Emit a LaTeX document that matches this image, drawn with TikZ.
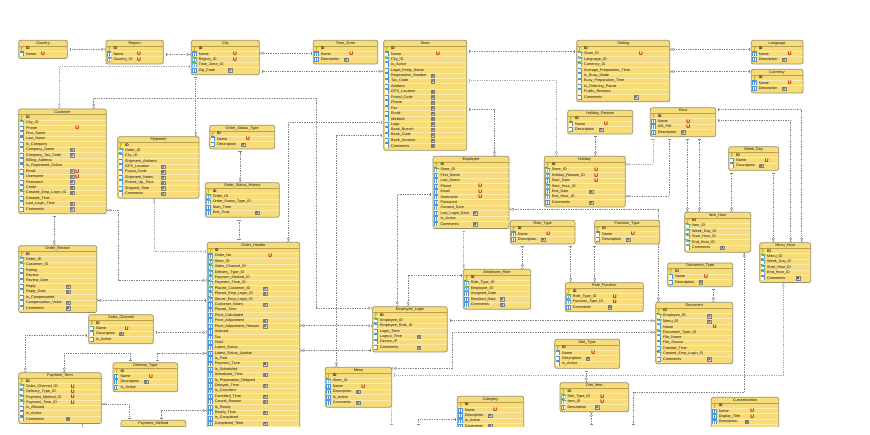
\documentclass[tikz,border=0pt]{standalone}
\usepackage{fontspec}
\setmainfont{Liberation Sans}
\usetikzlibrary{arrows.meta}
\catcode`\_=12
\pgfdeclarelayer{bg}
\pgfsetlayers{bg,main}
\definecolor{tfill}{HTML}{F8DC7A}
\definecolor{tedge}{HTML}{978F66}
\definecolor{tline}{HTML}{FBEBB0}
\definecolor{thead}{HTML}{B5A050}
\definecolor{icob}{HTML}{4F94D4}
\definecolor{icog}{HTML}{2E9E3E}
\definecolor{keyc}{HTML}{E0AE18}
\definecolor{uc}{HTML}{C00000}
\definecolor{cng}{HTML}{868686}
\definecolor{cnl}{HTML}{ABABAB}
\tikzset{
  x=1pt,y=-1pt,
  tblbox/.style={draw=tedge,fill=tfill,line width=.7pt,rounded corners=2pt,inner sep=0pt,outer sep=0pt,anchor=north west},
  ttl/.style={font=\fontsize{3.8}{4}\selectfont,inner sep=0pt,text=black!90},
  rowt/.style={font=\fontsize{3.75}{4}\selectfont,inner sep=0pt,anchor=west,text=black!90},
  ut/.style={font=\fontsize{5.2}{5}\selectfont\bfseries,inner sep=0pt,text=uc},
  mtip/.tip={Circle[open,length=2.8pt,width=2.8pt,fill=white,line width=.4pt,sep=.6pt] Straight Barb[reversed,length=1.4pt,width=3pt,line width=.35pt]},
  otip/.tip={Bar[width=3.2pt,line width=.4pt,sep=2.4pt]},
  cn/.style={draw=cng,line width=.5pt,dash pattern=on 1.4pt off 1pt},
  cl/.style={draw=cnl,line width=.8pt,dash pattern=on .9pt off .9pt},
}
\newcommand{\iconk}{%
  \fill[keyc] (\rx+3.2,\ry-1.1) circle (1.25);
  \fill[keyc] (\rx+2.7,\ry-1) rectangle (\rx+3.7,\ry+2.5);}
\newcommand{\iconc}{%
  \fill[icob] (\rx+1.1,\ry-2.5) rectangle (\rx+5.3,\ry+2.5);
  \fill[white] (\rx+1.7,\ry-1.3) rectangle (\rx+2.9,\ry+2);
  \fill[white] (\rx+3.5,\ry-1.3) rectangle (\rx+4.7,\ry+2);}
\newcommand{\iconf}{%
  \fill[icob!75!white] (\rx+1.1,\ry-1.7) rectangle (\rx+5.3,\ry+2.5);
  \fill[white] (\rx+1.7,\ry-.6) rectangle (\rx+2.9,\ry+2);
  \fill[white] (\rx+3.5,\ry-.6) rectangle (\rx+4.7,\ry+2);
  \draw[icog,line width=.8pt] (\rx+.8,\ry-2.7) -- (\rx+5.8,\ry-1.4);}
\newcommand{\iconz}{}
\newcommand{\nbox}{%
  \draw[black!50,fill=black!14,line width=.35pt] (\nx-1.7,\ry-1.7) rectangle (\nx+1.7,\ry+1.7);
  \draw[black!70,line width=.4pt] (\nx-1,\ry-1) -- (\nx+1,\ry+1) (\nx-1,\ry+1) -- (\nx+1,\ry-1);}
\newcommand{\ubox}[1]{\node[ut] (#1-u\i) at (\ux,\ry) {U};}
\newcommand{\tbl}[9]{%
  \pgfmathsetmacro{\hh}{7.5+5.4*#8}
  \node[tblbox,minimum width=#4pt,minimum height=\hh pt] (#1) at (#2,#3) {};
  \begin{scope}
  \foreach \i in {1,...,#8}{
    \pgfmathsetmacro{\ly}{#3+5.6+5.4*\i}
    \ifnum\i<#8\relax\draw[tline,line width=.5pt] (#2+.5,\ly) -- (#2+#4-.5,\ly);\fi
  }
  \draw[thead,line width=.4pt] (#2+.4,#3+5.6) -- (#2+#4-.4,#3+5.6);
  \node[ttl] (#1-t) at (#2+#4/2,#3+2.9) {#7};
  \def\rx{#2}\def\ux{#5}\def\nx{#6}
  \foreach \ty/\lab/\fl [count=\i from 0] in {#9}{
    \pgfmathsetmacro{\ry}{#3+8.3+5.4*\i}
    \csname icon\ty\endcsname
    \node[rowt] (#1-r\i) at (#2+7.3,\ry) {\lab};
    \csname flg\fl\endcsname{#1}
  }
  \end{scope}
}
\newcommand{\flg}[1]{}
\newcommand{\flgu}[1]{\ubox{#1}}
\newcommand{\flgn}[1]{\nbox}
\newcommand{\flgnu}[1]{\nbox\ubox{#1}}
\begin{document}
\begin{tikzpicture}
\path[use as bounding box] (0,0) rectangle (870,435);
\begin{pgfonlayer}{bg}
\fill[white] (0,0) rectangle (870,435);
\end{pgfonlayer}
\begin{scope}
\clip (0,0) rectangle (870,426);
\tbl{country}{18.7}{40.3}{48.6}{43}{0}{Country}{2}{k/\textbf{ID}/,c/Name/u}
\tbl{region}{106}{40.3}{57.3}{139}{0}{Region}{3}{k/\textbf{ID}/,c/Name/u,f/Country_ID/u}
\tbl{city}{191.3}{40.3}{68}{235}{230}{City}{5}{k/\textbf{ID}/,c/Name/u,f/Region_ID/u,f/Time_Zone_ID/,c/Zip_Code/n}
\tbl{timezone}{313.3}{40.3}{64.4}{351.3}{346}{Time_Zone}{3}{k/\textbf{ID}/,c/Name/u,c/Description/n}
\tbl{store}{383.7}{40.3}{83}{438}{432.7}{Store}{19}{k/\textbf{ID}/,c/Name/u,f/City_ID/,c/Is_Active/,c/Legal_Entity_Name/,c/Registration_Number/n,c/Tax_Code/n,c/Address/,c/GPS_Location/n,c/Postal_Code/n,c/Phone/n,c/Fax/n,c/Email/n,c/Website/n,c/Logo/n,c/Bank_Branch/n,c/Bank_Code/n,c/Bank_Account/n,c/Comments/n}
\tbl{setting}{576.7}{40.3}{93}{641}{636}{Setting}{10}{k/\textbf{ID}/,f/Store_ID/u,f/Language_ID/,f/Currency_ID/,c/Average_Preparation_Time/,c/Is_Busy_Mode/,c/Busy_Preparation_Time/,c/Is_Ordering_Pause/,c/Public_Reviews/,c/Comments/n}
\tbl{language}{751.3}{40.3}{51.7}{789.7}{784}{Language}{3}{k/\textbf{ID}/,c/Name/u,c/Description/n}
\tbl{currency}{751.3}{69.3}{51.7}{789.7}{784}{Currency}{3}{k/\textbf{ID}/,c/Name/u,c/Description/n}
\tbl{customer}{18.7}{109}{87.6}{77.3}{72}{Customer}{18}{k/\textbf{ID}/,f/City_ID/,c/Phone/u,c/First_Name/,c/Last_Name/,c/Is_Company/,c/Company_Name/n,c/Company_Tax_Code/n,c/Billing_Address/,c/Is_Registered_Online/,c/Email/nu,c/Username/nu,c/Password/n,c/Credit/n,f/Created_Emp_Login_ID/n,c/Created_Time/,c/Last_Login_Time/n,c/Comments/n}
\tbl{shipment}{117.7}{136.7}{81.3}{0}{163}{Shipment}{10}{k/\textbf{ID}/,f/Order_ID/,f/City_ID/,c/Shipment_Address/,c/GPS_Location/n,c/Postal_Code/n,c/Shipment_Notes/n,c/Picked_Up_Time/n,c/Shipped_Time/n,c/Comments/n}
\tbl{ostype}{209.7}{125.3}{65}{248}{243}{Order_Status_Type}{3}{k/\textbf{ID}/,c/Name/u,c/Description/n}
\tbl{oshist}{205.3}{182.7}{74}{0}{257}{Order_Status_History}{5}{k/\textbf{ID}/,f/Order_ID/,f/Order_Status_Type_ID/,c/Start_Time/,c/End_Time/n}
\tbl{employee}{433}{156.3}{76}{480.3}{475}{Employee}{12}{k/\textbf{ID}/,f/Store_ID/,c/First_Name/,c/Last_Name/,c/Phone/u,c/Email/u,c/Username/u,c/Password/,c/Created_Date/,c/Last_Login_Date/n,c/Is_Active/,c/Comments/n}
\tbl{holreason}{567.7}{110.3}{65}{606}{601}{Holiday_Reason}{3}{k/\textbf{ID}/,c/Name/u,c/Description/n}
\tbl{hour}{650.3}{107.7}{65.4}{688.3}{683}{Hour}{4}{k/\textbf{ID}/,c/Name/u,c/AM_PM/u,c/Description/n}
\tbl{weekday}{728.7}{146.7}{50}{766.7}{761}{Week_Day}{3}{k/\textbf{ID}/,c/Name/u,c/Description/n}
\tbl{holiday}{544.3}{156.3}{81}{596.3}{591}{Holiday}{8}{k/\textbf{ID}/,f/Store_ID/u,f/Holiday_Reason_ID/u,c/Start_Date/u,f/Start_Hour_ID/,c/End_Date/n,f/End_Hour_ID/,c/Comments/n}
\tbl{itemhour}{684.7}{212.3}{66}{0}{722.3}{Item_Hour}{6}{k/\textbf{ID}/,f/Item_ID/,f/Week_Day_ID/,f/Start_Hour_ID/,f/End_Hour_ID/,c/Comments/n}
\tbl{functype}{594.7}{220.3}{65}{633}{628}{Function_Type}{3}{k/\textbf{ID}/,c/Name/u,c/Description/n}
\tbl{roletype}{510.3}{220.3}{64.7}{548.3}{543}{Role_Type}{3}{k/\textbf{ID}/,c/Name/u,c/Description/n}
\tbl{menuhour}{759.7}{242.7}{51}{0}{798}{Menu_Hour}{6}{k/\textbf{ID}/,f/Menu_ID/,f/Week_Day_ID/,f/Start_Hour_ID/,f/End_Hour_ID/,c/Comments/n}
\tbl{doctype}{667.7}{263}{65}{706}{700.7}{Document_Type}{3}{k/\textbf{ID}/,c/Name/u,c/Description/n}
\tbl{document}{655.7}{302.3}{77}{714.7}{709.3}{Document}{10}{k/\textbf{ID}/,f/Employee_ID/n,f/Menu_ID/n,c/Name/u,f/Document_Type_ID/,c/File_Name/,c/File_Source/,c/Created_Time/,f/Created_Emp_Login_ID/,c/Comments/n}
\tbl{rolefunc}{565.3}{282.7}{78}{614.7}{609.7}{Role_Function}{4}{k/\textbf{ID}/,f/Role_Type_ID/u,f/Function_Type_ID/u,c/Comments/n}
\tbl{diettype}{554.7}{339.3}{65}{593.3}{587.7}{Diet_Type}{4}{k/\textbf{ID}/,c/Name/u,c/Description/n,c/Is_Active/}
\tbl{dietitem}{560}{382.7}{68.7}{602.3}{597}{Diet_Item}{4}{k/\textbf{ID}/,f/Diet_Type_ID/u,f/Item_ID/u,c/Description/n}
\tbl{custom}{711.3}{397.3}{67.4}{752.3}{746.7}{Customization}{5}{k/\textbf{ID}/,c/Name/u,c/Display_Title/u,c/Description/n}
\tbl{emprole}{463.3}{269.3}{67.4}{0}{502}{Employee_Role}{6}{k/\textbf{ID}/,f/Role_Type_ID/,f/Employee_ID/,c/Assigned_Date/,c/Revoked_Date/n,c/Comments/n}
\tbl{emplogin}{372.7}{306.7}{74.6}{0}{418.7}{Employee_Login}{7}{k/\textbf{ID}/,f/Employee_ID/,f/Employee_Role_ID/,c/Login_Time/,c/Logout_Time/n,c/Device_IP/,c/Comments/n}
\tbl{menu}{325.3}{367.3}{66.4}{363.3}{358}{Menu}{6}{k/\textbf{ID}/,f/Store_ID/,c/Name/u,c/Description/n,c/Is_Active/,c/Comments/n}
\tbl{category}{457.3}{396.3}{66.4}{495.3}{490}{Category}{6}{k/\textbf{ID}/,c/Name/u,c/Description/n,c/Is_Active/,c/Comments/n}
\tbl{order}{207.3}{242.3}{92.4}{270.3}{265}{Order_Header}{36}{k/\textbf{ID}/,c/Order_No/u,f/Store_ID/,f/Sales_Channel_ID/,f/Delivery_Type_ID/,f/Payment_Method_ID/,f/Payment_Time_ID/,f/Placed_Customer_ID/n,f/Placed_Emp_Login_ID/n,f/Server_Emp_Login_ID/,c/Customer_Notes/n,c/Placed_Time/,c/Price_Calculated/,c/Price_Adjustment/n,c/Price_Adjustment_Reason/n,c/Subtotal/,c/Tax/,c/Total/,c/Latest_Status/,c/Latest_Status_Update/,c/Is_Paid/,c/Payment_Time/n,c/Is_Scheduled/,c/Scheduled_Time/n,c/Is_Preparation_Delayed/,c/Delayed_Time/n,c/Is_Canceled/,c/Canceled_Time/n,c/Cancel_Reason/n,c/Is_Ready/,c/Ready_Time/n,c/Is_Completed/,c/Completed_Time/n}
\tbl{review}{18.7}{245.7}{78}{0}{68}{Order_Review}{11}{k/\textbf{ID}/,f/Order_ID/,f/Customer_ID/,c/Rating/,c/Review/,c/Review_Date/,c/Reply/n,c/Reply_Date/n,c/Is_Compensated/,c/Compensation_Value/n,c/Comments/n}
\tbl{saleschan}{88.7}{314.7}{64.6}{126.7}{121.3}{Sales_Channel}{4}{k/\textbf{ID}/,c/Name/u,c/Description/n,c/Is_Active/}
\tbl{deltype}{113}{362.7}{64.7}{151}{146}{Delivery_Type}{4}{k/\textbf{ID}/,c/Name/u,c/Description/n,c/Is_Active/}
\tbl{payterm}{18.7}{372.7}{82.6}{72.7}{67.7}{Payment_Term}{8}{k/\textbf{ID}/,f/Sales_Channel_ID/u,f/Delivery_Type_ID/u,f/Payment_Method_ID/u,f/Payment_Time_ID/u,c/Is_Allowed/,c/Is_Active/,c/Comments/n}
\tbl{paymeth}{121}{420.3}{64.7}{0}{0}{Payment_Method}{4}{z//}
\end{scope}
\begin{pgfonlayer}{bg}
\clip (0,0) rectangle (870,426);
\coordinate (endb1) at (82.3,427);
\coordinate (endb2) at (391.7,427);
\coordinate (endb3) at (418.3,427);
\coordinate (endb4) at (591.3,427);
\coordinate (endb5) at (633.3,427);
\draw[cn,mtip-otip] (region.west |- 0,49.3) -- (country.east |- 0,49.3);
\draw[cn,mtip-otip] (city.west |- 0,54.3) -- (region.east |- 0,54.3);
\draw[cn,mtip-otip] (city.east |- 0,53.3) -- (timezone.west |- 0,53.3);
\draw[cn,mtip-otip] (store.west |- 0,71.3) -- (city.east |- 0,71.3);
\draw[cl,mtip-otip] (customer.north -| 59.3,0) |- (city.west |- 0,66.7);
\draw[cn,mtip-mtip] (customer.north -| 93.7,0) -- (93.7,98.3) -- (315.8,98.3) |- (emplogin.west |- 0,308.3);
\draw[cn,mtip-otip] (shipment.north -| 195.7,0) -- (city.south -| 195.7,0);
\draw[cn,otip-mtip] (customer.south -| 54.3,0) -- (review.north -| 54.3,0);
\draw[cn,mtip-mtip] (customer.east |- 0,210.3) -| (118.3,280.3) -- (order.west |- 0,280.3);
\draw[cl,mtip-otip] (shipment.south -| 154,0) |- (order.west |- 0,251.3);
\draw[cn,mtip-otip] (oshist.north -| 240,0) -- (ostype.south -| 240,0);
\draw[cn,otip-otip] (oshist.south -| 239,0) -- (order.north -| 239,0);
\draw[cn,mtip-otip] (order.north -| 288.3,0) |- (store.west |- 0,122.3);
\draw[cn,otip-mtip] (store.west |- 0,135.3) -| (menu.north -| 336.3,0);
\draw[cn,otip-mtip] (employee.west |- 0,194.3) -| (emplogin.north -| 397.3,0);
\draw[cn,otip-mtip] (emprole.west |- 0,275.3) -| (emplogin.north -| 408,0);
\draw[cl,otip-mtip] (employee.south -| 463.7,0) -- (emprole.north -| 463.7,0);
\draw[cn,otip-mtip] (roletype.south -| 522.3,0) -- (emprole.north -| 522.3,0);
\draw[cn,otip-mtip] (roletype.south -| 570.7,0) -- (rolefunc.north -| 570.7,0);
\draw[cn,otip-mtip] (functype.south -| 594.7,0) -- (rolefunc.north -| 594.7,0);
\draw[cn,mtip-mtip] (order.east |- 0,325.7) -- (emplogin.west |- 0,325.7);
\draw[cn,mtip-otip] (order.east |- 0,350.7) -- (emplogin.west |- 0,350.7);
\draw[cn,mtip-otip] (document.west |- 0,320.7) -- (emplogin.east |- 0,320.7);
\draw[cn,mtip-mtip] (document.west |- 0,332.3) -| (452.7,368.3) -- (menu.east |- 0,368.3);
\draw[cn,otip-otip] (store.east |- 0,51.7) -- (setting.west |- 0,51.7);
\draw[cl,otip-mtip] (store.east |- 0,80.7) -| (holiday.north -| 556.7,0);
\draw[cn,otip-mtip] (store.east |- 0,109.7) -| (employee.north -| 494.3,0);
\draw[cn,mtip-otip] (setting.east |- 0,49.3) -- (language.west |- 0,49.3);
\draw[cn,mtip-otip] (setting.east |- 0,71.7) -- (currency.west |- 0,71.7);
\draw[cn,otip-mtip] (holreason.south -| 595.3,0) -- (holiday.north -| 595.3,0);
\draw[cl,mtip-otip] (holiday.east |- 0,164) -| (hour.south -| 653,0);
\draw[cn,mtip-otip] (holiday.east |- 0,196) -| (hour.south -| 669.3,0);
\draw[cn,mtip-mtip] (employee.east |- 0,209.3) -| (document.north -| 658.3,0);
\draw[cn,mtip-otip] (itemhour.north -| 687.3,0) -- (hour.south -| 687.3,0);
\draw[cn,mtip-otip] (itemhour.north -| 699.3,0) -- (hour.south -| 699.3,0);
\draw[cn,mtip-otip] (itemhour.north -| 731.7,0) -- (weekday.south -| 731.7,0);
\draw[cn,mtip-otip] (menuhour.north -| 773.3,0) -- (weekday.south -| 773.3,0);
\draw[cn,mtip-otip] (menuhour.north -| 790.7,0) |- (hour.east |- 0,120.3);
\draw[cn,mtip-otip] (menuhour.north -| 801.7,0) |- (hour.east |- 0,109.7);
\draw[cn,otip-mtip] (doctype.south -| 713.3,0) -- (document.north -| 713.3,0);
\draw[cl,otip-mtip] (menu.east |- 0,375) -| (menuhour.south -| 783.3,0);
\draw[cn,otip-mtip] (diettype.south -| 586.3,0) -- (dietitem.north -| 586.3,0);
\draw[cn,mtip-otip] (itemhour.south -| 744.3,0) -- (744.3,392.3) -| (endb5);
\draw[cn,mtip-otip] (dietitem.south -| 591.3,0) -- (endb4);
\draw[cn,-otip] (menu.south -| 391.2,0) -- (endb2);
\draw[cn,otip-otip] (category.west |- 0,419.7) -| (endb3);
\draw[cn,mtip-otip] (review.east |- 0,300.3) -- (order.west |- 0,300.3);
\draw[cn,otip-mtip] (saleschan.east |- 0,332.3) -- (order.west |- 0,332.3);
\draw[cn,otip-mtip] (saleschan.west |- 0,335.3) -| (payterm.north -| 25.3,0);
\draw[cn,mtip-otip] (payterm.north -| 64.3,0) -- (64.3,353.3) -| (deltype.north -| 130.3,0);
\draw[cn,mtip-otip] (order.west |- 0,353.3) -| (deltype.north -| 157.7,0);
\draw[cn,mtip-otip] (payterm.east |- 0,404) -| (paymeth.north -| 129.3,0);
\draw[cn,mtip-otip] (order.west |- 0,410.7) -| (paymeth.north -| 161.3,0);
\draw[cn] (payterm.south -| 82.3,0) -- (endb1);
\end{pgfonlayer}
\end{tikzpicture}
\end{document}
